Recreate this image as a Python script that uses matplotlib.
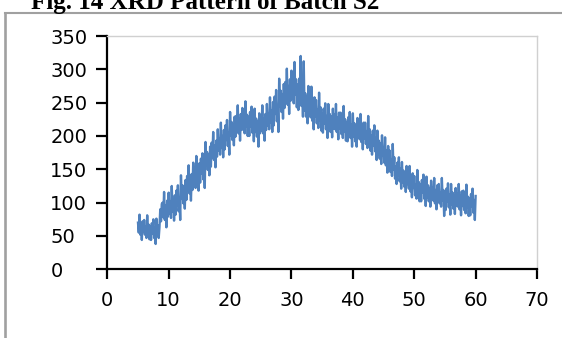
import matplotlib
matplotlib.use("Agg")
import matplotlib.pyplot as plt
from matplotlib.lines import Line2D
import numpy as np

title = "Fig. 14 XRD Pattern of Batch S2"
x_start, x_step = 5.0, 0.125
intensity = [
    70, 55, 82, 52, 68, 44, 72, 56,
    74, 52, 64, 47, 81, 54, 67, 45,
    64, 44, 69, 54, 75, 47, 62, 38,
    76, 52, 66, 47, 63, 90, 72, 98,
    100, 78, 116, 74, 96, 63, 103, 79,
    115, 83, 101, 77, 125, 87, 105, 73,
    111, 82, 118, 96, 126, 87, 107, 74,
    141, 106, 126, 99, 122, 91, 134, 104,
    140, 118, 156, 114, 136, 103, 143, 119,
    160, 128, 146, 122, 170, 132, 150, 118,
    159, 130, 166, 144, 174, 135, 155, 122,
    191, 156, 176, 149, 172, 141, 184, 154,
    190, 168, 206, 164, 186, 153, 193, 169,
    210, 178, 196, 172, 220, 182, 200, 168,
    209, 180, 216, 194, 224, 185, 205, 172,
    236, 201, 221, 194, 217, 186, 229, 199,
    230, 208, 246, 204, 226, 193, 233, 209,
    242, 210, 228, 204, 252, 214, 232, 200,
    229, 200, 236, 214, 244, 205, 225, 192,
    241, 206, 226, 199, 222, 184, 234, 204,
    230, 208, 246, 204, 226, 193, 233, 209,
    248, 216, 234, 210, 258, 220, 238, 206,
    251, 216, 259, 233, 269, 222, 246, 206,
    286, 244, 268, 236, 263, 226, 278, 242,
    281, 252, 301, 247, 275, 233, 285, 253,
    298, 256, 280, 249, 311, 262, 285, 243,
    277, 239, 286, 257, 320, 245, 272, 229,
    312, 238, 264, 229, 259, 219, 275, 236,
    254, 228, 274, 223, 250, 210, 258, 229,
    254, 219, 239, 212, 265, 223, 243, 208,
    234, 205, 241, 219, 249, 210, 230, 197,
    248, 213, 233, 206, 229, 198, 241, 211,
    232, 210, 248, 206, 228, 195, 235, 211,
    235, 203, 221, 197, 245, 207, 225, 193,
    221, 192, 228, 206, 236, 197, 217, 184,
    234, 199, 219, 192, 215, 184, 227, 197,
    217, 195, 233, 191, 213, 180, 220, 196,
    220, 188, 206, 182, 230, 192, 210, 178,
    201, 172, 208, 186, 216, 177, 197, 164,
    208, 173, 193, 166, 189, 158, 201, 171,
    182, 160, 198, 156, 178, 145, 185, 161,
    178, 146, 164, 140, 188, 150, 168, 136,
    154, 128, 160, 141, 168, 132, 151, 121,
    161, 130, 148, 124, 144, 116, 155, 128,
    141, 121, 155, 117, 137, 108, 144, 122,
    140, 111, 127, 106, 149, 115, 131, 102,
    128, 102, 134, 115, 142, 106, 125, 95,
    139, 108, 126, 102, 122, 94, 133, 106,
    123, 103, 137, 99, 119, 90, 126, 104,
    128, 99, 115, 94, 137, 103, 119, 80,
    115, 89, 121, 102, 129, 93, 112, 82,
    128, 97, 115, 91, 111, 83, 122, 95,
    114, 94, 128, 90, 110, 81, 117, 95,
    118, 89, 105, 84, 127, 93, 109, 80,
    107, 81, 113, 94, 121, 85, 104, 74,
    110,
]
two_theta = x_start + x_step * np.arange(len(intensity))

x_ticks = [0, 10, 20, 30, 40, 50, 60, 70]
y_ticks = [0, 50, 100, 150, 200, 250, 300, 350]

W, H = 562, 338
fig = plt.figure(figsize=(W / 100, H / 100), dpi=100)
ax = fig.add_axes([107.3 / W, 1 - 269.3 / H, (537 - 107.3) / W, (269.3 - 36) / H])

ax.plot(two_theta, intensity, color="#4F81BD", lw=1.7)
ax.set_xlim(0, 70)
ax.set_ylim(0, 350)
ax.set_xticks(x_ticks)
ax.set_yticks(y_ticks)
ax.set_xticklabels([str(v) for v in x_ticks], fontsize=14, family="DejaVu Sans")
ax.set_yticklabels([str(v) for v in y_ticks], fontsize=14, family="DejaVu Sans", ha="left")

for s in ["left", "bottom"]:
    ax.spines[s].set_color("black")
    ax.spines[s].set_linewidth(1.6)
for s in ["top", "right"]:
    ax.spines[s].set_color("#d0d0d0")
    ax.spines[s].set_linewidth(1.0)

ax.tick_params(axis="x", direction="out", length=7.5, width=1.6, pad=8)
ax.tick_params(axis="y", direction="out", length=8, width=1.6, pad=33)

# outer frame
fig.add_artist(Line2D([5.3 / W, 5.3 / W], [0, 1 - 13 / H], transform=fig.transFigure,
                      color="#a0a0a0", lw=1.9))
fig.add_artist(Line2D([5.3 / W, 1], [1 - 13 / H, 1 - 13 / H], transform=fig.transFigure,
                      color="#a0a0a0", lw=1.5))

fig.text(205.5 / W, 1 - 9 / H, title, ha="center", va="baseline",
         fontsize=18, fontweight="bold", family="Liberation Serif")

fig.savefig("out.png", dpi=100)
